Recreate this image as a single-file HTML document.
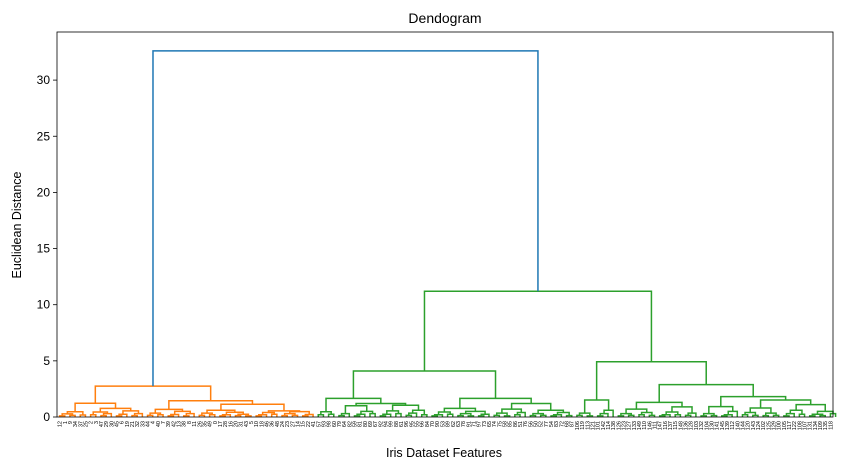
<!DOCTYPE html>
<html><head><meta charset="utf-8"><style>
body{margin:0;background:#fff;}
svg{display:block;font-family:"Liberation Sans","DejaVu Sans",sans-serif;}
</style></head><body>
<svg id="chart" width="842" height="470">
<rect x="0" y="0" width="842" height="470" fill="#fff"/>
<text x="445" y="23" text-anchor="middle" font-size="14" fill="#000">Dendogram</text>
<text x="444" y="457" text-anchor="middle" font-size="12.5" fill="#000">Iris Dataset Features</text>
<text transform="translate(21,225) rotate(-90)" text-anchor="middle" font-size="12.5" fill="#000">Euclidean Distance</text>
<g id="links"></g>
<g id="yaxis"></g>
<g id="xaxis"></g>
<rect x="57" y="32" width="776" height="385" fill="none" stroke="#000" stroke-width="0.8"/>
</svg>
<script>
// Tree data: node = [height, left, right], leaf = 0
const orangeTree = [2.75,
  [1.22,
    [0.47,[0.28,[0.1,0,0],[0.15,0,0]],[0.18,0,0]],
    [0.77,[0.45,[0.2,0,0],[0.3,[0.12,0,0],0]],[0.55,[0.25,[0.1,0,0],0],[0.3,[0.12,0,0],0]]]],
  [1.45,
    [0.68,[0.35,[0.15,0,0],[0.2,0,0]],[0.5,[0.22,[0.1,0,0],0],[0.3,[0.1,0,0],0]]],
    [1.13,
      [0.6,[0.35,[0.15,0,0],[0.2,0,0]],[0.42,[0.2,[0.1,0,0],0],[0.25,[0.12,0,0],[0.1,0,0]]]],
      [0.55,[0.4,[0.2,[0.1,0,0],0],[0.25,0,0]],[0.48,[0.3,[0.12,0,0],[0.15,0,0]],[0.22,[0.1,0,0],0]]]]]];
const greenLeftTree = [4.1,
  [1.66,
    [0.47,[0.2,0,0],[0.25,0,0]],
    [1.2,
      [1.0,[0.3,[0.12,0,0],0],[0.5,[0.25,[0.1,0,0],0],[0.3,0,0]]],
      [1.05,[0.55,[0.25,[0.1,0,0],0],[0.3,0,0]],[0.6,[0.35,[0.15,0,0],0],[0.2,0,0]]]]],
  [1.66,
    [0.77,[0.45,[0.2,[0.1,0,0],0],[0.25,0,0]],[0.5,[0.3,[0.12,0,0],[0.1,0,0]],[0.25,[0.1,0,0],0]]],
    [1.2,
      [0.7,[0.35,[0.15,0,0],[0.1,0,0]],[0.4,[0.2,0,0],0]],
      [0.6,[0.3,[0.12,0,0],[0.15,0,0]],[0.4,[0.2,[0.1,0,0],0],[0.12,0,0]]]]]];
const greenRightTree = [4.92,
  [1.51,[0.35,[0.15,0,0],[0.1,0,0]],[0.6,[0.3,[0.1,0,0],0],0]],
  [2.88,
    [1.3,[0.7,[0.3,[0.1,0,0],[0.15,0,0]],[0.4,[0.2,0,0],[0.15,0,0]]],[0.9,[0.45,[0.2,[0.1,0,0],0],[0.2,0,0]],[0.35,[0.15,0,0],0]]],
    [1.81,
      [0.92,[0.3,[0.1,0,0],[0.12,0,0]],[0.5,[0.2,[0.1,0,0],0],0]],
      [1.51,[0.8,[0.4,[0.2,0,0],[0.15,0,0]],[0.35,[0.12,0,0],[0.15,0,0]]],[1.1,[0.6,[0.3,[0.1,0,0],0],[0.25,0,0]],[0.5,[0.25,[0.1,0,0],[0.12,0,0]],[0.3,0,0]]]]]]];
const greenHeight = 11.2;
const rootHeight = 32.6;
const yTicks = [0,5,10,15,20,25,30];
const leafLabels = [
 12,1,9,34,37,25,2,3,47,29,30,45,6,19,21,32,33,44,4,40,7,39,42,13,38,8,11,26,35,49,0,17,28,16,20,31,43,5,10,18,46,36,48,24,23,27,14,15,22,41,
 57,93,98,60,79,64,82,59,81,80,69,67,92,94,99,88,61,96,95,55,66,84,70,90,53,89,62,63,78,91,71,97,73,65,74,75,58,85,86,51,76,56,50,52,77,54,83,72,68,87,
 106,119,113,121,101,142,114,138,126,123,127,133,149,110,146,111,147,116,137,115,148,136,128,103,132,104,130,141,145,139,112,140,144,120,143,124,102,125,129,100,105,117,122,108,107,131,134,109,135,118];

const X0=57, X1=833, Y0=417, PXU=11.23, NLEAF=150;
function xPos(i){ return X0 + (i*10+5)/(NLEAF*10)*(X1-X0); }
function yPos(v){ return Y0 - v*PXU; }
const svgNS="http://www.w3.org/2000/svg";
const links=document.getElementById('links');
let leafCounter=0;
function drawU(xl,hl,xr,hr,h,color,name){
  const p=document.createElementNS(svgNS,'path');
  p.setAttribute('d',`M${xl},${yPos(hl)}V${yPos(h)}H${xr}V${yPos(hr)}`);
  p.setAttribute('fill','none');p.setAttribute('stroke',color);p.setAttribute('stroke-width','1.5');
  
  
  links.appendChild(p);
}
function layout(node,color){
  if(node===0){ const x=xPos(leafCounter); leafCounter++; return {x:x,h:0}; }
  const a=layout(node[1],color), b=layout(node[2],color);
  drawU(a.x,a.h,b.x,b.h,node[0],color,'cluster-link');
  return {x:(a.x+b.x)/2,h:node[0]};
}
const o=layout(orangeTree,'#ff7f0e');
const gl=layout(greenLeftTree,'#2ca02c');
const gr=layout(greenRightTree,'#2ca02c');
drawU(gl.x,gl.h,gr.x,gr.h,greenHeight,'#2ca02c','green-root-link');
drawU(o.x,o.h,(gl.x+gr.x)/2,greenHeight,rootHeight,'#1f77b4','root-link');

const ya=document.getElementById('yaxis');
yTicks.forEach(t=>{
  const y=yPos(t);
  const l=document.createElementNS(svgNS,'line');
  l.setAttribute('x1',X0-4);l.setAttribute('x2',X0);l.setAttribute('y1',y);l.setAttribute('y2',y);
  l.setAttribute('stroke','#000');l.setAttribute('stroke-width','0.8');
  
  
  ya.appendChild(l);
  const tx=document.createElementNS(svgNS,'text');
  tx.setAttribute('x',X0-7);tx.setAttribute('y',y+4);tx.setAttribute('text-anchor','end');tx.setAttribute('font-size','12');
  tx.textContent=t;
  
  
  ya.appendChild(tx);
});
const xa=document.getElementById('xaxis');
leafLabels.forEach((lab,i)=>{
  const x=xPos(i);
  const tx=document.createElementNS(svgNS,'text');
  tx.setAttribute('transform',`translate(${x+2},${421}) rotate(-90)`);
  tx.setAttribute('text-anchor','end');tx.setAttribute('font-size','5.5');tx.setAttribute('fill','#000');
  tx.textContent=lab;
  
  
  xa.appendChild(tx);
});
</script>
</body></html>
